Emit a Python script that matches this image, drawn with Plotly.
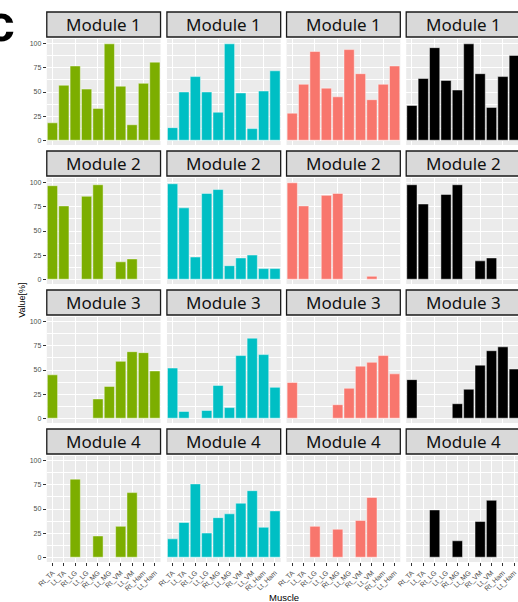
import plotly.graph_objects as go

# Muscles on the x axis (same order in every panel)
muscles = ["Rt_TA", "Lt_TA", "Rt_LG", "Lt_LG", "Rt_MG",
           "Lt_MG", "Rt_VM", "Lt_VM", "Rt_Ham", "Lt_Ham"]
modules = ["Module 1", "Module 2", "Module 3", "Module 4"]
y_ticks = [0, 25, 50, 75, 100]

# Module weights [%] per group, one list per module
green_vals = [
    [18, 57, 77, 53, 33, 100, 56, 16, 59, 81],
    [97, 76, 0, 86, 98, 0, 18, 21, 0, 0],
    [45, 0, 0, 0, 20, 33, 59, 69, 68, 49],
    [0, 0, 81, 0, 22, 0, 32, 67, 0, 0],
]
cyan_vals = [
    [13, 50, 66, 50, 29, 100, 49, 12, 51, 72],
    [99, 74, 23, 89, 93, 14, 22, 25, 11, 11],
    [52, 7, 0, 8, 34, 11, 65, 83, 66, 32],
    [19, 36, 76, 25, 41, 45, 56, 69, 31, 48],
]
salmon_vals = [
    [28, 58, 92, 54, 45, 94, 69, 42, 58, 77],
    [100, 76, 0, 87, 89, 0, 0, 3, 0, 0],
    [37, 0, 0, 0, 14, 31, 54, 58, 65, 46],
    [0, 0, 32, 0, 29, 0, 38, 62, 0, 0],
]
black_vals = [
    [36, 64, 96, 62, 52, 100, 69, 34, 66, 88],
    [98, 78, 0, 88, 98, 0, 19, 22, 0, 0],
    [40, 0, 0, 0, 15, 30, 55, 70, 74, 51],
    [0, 0, 49, 0, 17, 0, 37, 59, 0, 0],
]

groups = [green_vals, cyan_vals, salmon_vals, black_vals]
group_colors = ["#7CAE00", "#00BFC4", "#F8766D", "#000000"]

# Page geometry in pixels
W, H = 518, 602
col_left = [37.5, 160, 282, 404]
col_w = 116
row_top = [39, 178, 317, 456]
row_h = 106
strip_h = 25
strip_gap = 2

fig = go.Figure()
layout = {}
shapes = []
annotations = []

tick_font = dict(family="Liberation Sans, Arial, sans-serif", size=7, color="#4D4D4D")

for r in range(4):
    for c in range(4):
        k = r * 4 + c + 1
        xa = "x" if k == 1 else f"x{k}"
        ya = "y" if k == 1 else f"y{k}"
        vals = [v if v > 0 else None for v in groups[c][r]]
        fig.add_trace(go.Bar(
            x=muscles, y=vals, xaxis=xa, yaxis=ya,
            marker=dict(color=group_colors[c],
                        line=dict(color="rgba(255,255,255,0.55)", width=0.8)),
            showlegend=False, hoverinfo="x+y",
        ))

        left = col_left[c]
        right = min(left + col_w, W)
        top = row_top[r]
        bottom = top + row_h
        x_hi = -0.5 + 10 * (right - left) / col_w

        layout["xaxis" if k == 1 else f"xaxis{k}"] = dict(
            domain=[left / W, right / W],
            anchor=ya,
            type="category",
            categoryorder="array", categoryarray=muscles,
            range=[-0.5, x_hi],
            showgrid=True, gridcolor="white", gridwidth=1.1,
            showline=False, zeroline=False,
            showticklabels=(r == 3),
            ticks="outside" if r == 3 else "",
            ticklen=3, tickwidth=0.8, tickcolor="#333333",
            tickangle=-45, tickfont=tick_font,
            fixedrange=True,
        )
        layout["yaxis" if k == 1 else f"yaxis{k}"] = dict(
            domain=[1 - bottom / H, 1 - top / H],
            anchor=xa,
            range=[-5, 105],
            tickvals=y_ticks,
            showgrid=True, gridcolor="white", gridwidth=1.1,
            minor=dict(tickvals=[12.5, 37.5, 62.5, 87.5], showgrid=True,
                       gridcolor="white", gridwidth=0.5),
            showline=False, zeroline=False,
            showticklabels=(c == 0),
            ticks="outside" if c == 0 else "",
            ticklen=3, tickwidth=0.8, tickcolor="#333333",
            tickfont=tick_font,
            fixedrange=True,
        )

    # strip labels for this row
    for c in range(4):
        left = col_left[c]
        right = left + col_w
        s_top = row_top[r] - strip_gap - strip_h
        s_bot = row_top[r] - strip_gap
        shapes.append(dict(
            type="rect", xref="paper", yref="paper", layer="above",
            x0=left / W, x1=right / W,
            y0=1 - s_bot / H, y1=1 - s_top / H,
            fillcolor="#D9D9D9", line=dict(color="#1A1A1A", width=1.3),
        ))
        annotations.append(dict(
            text=modules[r], xref="paper", yref="paper", showarrow=False,
            x=(left + right) / 2 / W, y=1 - (s_top + s_bot) / 2 / H,
            xanchor="center", yanchor="middle",
            font=dict(family="Noto Sans, Open Sans, sans-serif", size=17, color="#111111"),
        ))

# axis titles and panel letter
annotations.append(dict(
    text="Value[%]", xref="paper", yref="paper", showarrow=False,
    x=12 / W, y=1 - 300 / H, xanchor="center", yanchor="middle", textangle=-90,
    font=dict(family="Liberation Sans, Arial, sans-serif", size=9, color="black"),
))
annotations.append(dict(
    text="Muscle", xref="paper", yref="paper", showarrow=False,
    x=279 / W, y=1 - 597 / H, xanchor="center", yanchor="middle",
    font=dict(family="Liberation Sans, Arial, sans-serif", size=9.5, color="black"),
))
annotations.append(dict(
    text="<b>c</b>", xref="paper", yref="paper", showarrow=False,
    x=-27 / W, y=1 - 23 / H, xanchor="left", yanchor="middle",
    font=dict(family="Liberation Sans, Arial, sans-serif", size=52, color="black"),
))

fig.update_layout(
    width=W, height=H,
    margin=dict(l=0, r=0, t=0, b=0),
    paper_bgcolor="white", plot_bgcolor="#EBEBEB",
    bargap=0.1,
    shapes=shapes, annotations=annotations,
    **layout,
)

fig.write_html("out.html", config={"displayModeBar": False})
